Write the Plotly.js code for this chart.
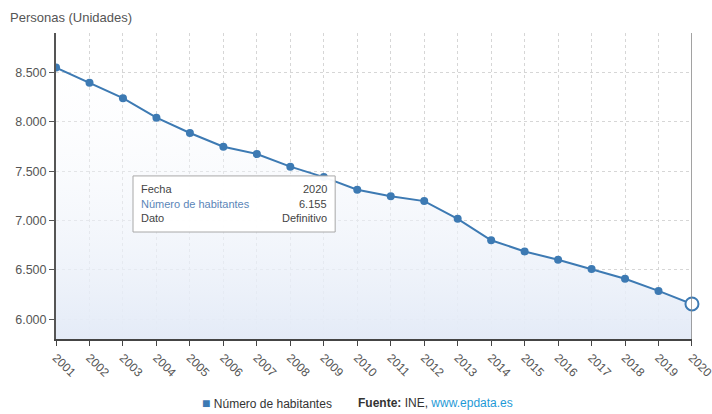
<!DOCTYPE html>
<html>
<head>
<meta charset="utf-8">
<script src="https://cdn.plot.ly/plotly-3.0.1.min.js"></script>
<style>
html,body{margin:0;padding:0;background:#fff;}
#chart{width:712px;height:414px;}
</style>
</head>
<body>
<div id="chart"></div>
<script>
// Data
const years = [2001,2002,2003,2004,2005,2006,2007,2008,2009,2010,2011,2012,2013,2014,2015,2016,2017,2018,2019,2020];
const habitantes = [8550,8395,8240,8042,7887,7748,7674,7546,7440,7312,7247,7197,7017,6800,6687,6603,6510,6410,6287,6155];
const seriesName = 'Número de habitantes';
const yTitle = 'Personas (Unidades)';
const datoLabel = 'Definitivo';
const sourceText = 'INE';
const sourceLink = 'www.epdata.es';

const lineColor = '#3d7ab3';
const font = 'Liberation Sans, Arial, sans-serif';

const n = years.length;
const lastYear = years[n-1];
const lastVal = habitantes[n-1];
function fmt(v){ return String(v).replace(/\B(?=(\d{3})+(?!\d))/g,'.'); }

const traceArea = {
  x: years, y: habitantes, type:'scatter', mode:'lines',
  line:{color:lineColor, width:2},
  fill:'tozeroy',
  fillgradient:{type:'vertical', start:5800, stop:8900,
    colorscale:[[0,'rgba(228,235,247,1)'],[1,'rgba(255,255,255,0)']]},
  hoverinfo:'skip', showlegend:false
};
const traceMarkers = {
  x: years.slice(0,n-1), y: habitantes.slice(0,n-1), type:'scatter', mode:'markers',
  marker:{color:lineColor, size:8},
  hoverinfo:'skip', showlegend:false
};
const traceLast = {
  x: [lastYear], y: [lastVal], type:'scatter', mode:'markers',
  marker:{color:'#ffffff', size:13, line:{color:lineColor, width:2}},
  hoverinfo:'skip', showlegend:false, cliponaxis:false
};

const tipX0 = 2003.3, tipX1 = 2009.34, tipY0 = 6884, tipY1 = 7452;
const rowYs = [7322, 7170, 7026];

const layout = {
  width:712, height:414,
  margin:{l:56, r:20, t:33, b:75},
  paper_bgcolor:'#ffffff', plot_bgcolor:'#ffffff',
  separators:',.',
  font:{family:font, color:'#555', size:12},
  xaxis:{
    range:[2000.999, 2020.001], tickmode:'array', tickvals:years, ticktext:years.map(String),
    tickangle:45, showgrid:true, gridcolor:'#d6d6d6', griddash:'dot', gridwidth:1,
    showline:true, linecolor:'#444', linewidth:2, ticks:'outside', ticklen:5, tickcolor:'#444',
    tickfont:{size:12, color:'#555'}, zeroline:false, fixedrange:true, automargin:false,
    ticklabeloverflow:'allow'
  },
  yaxis:{
    range:[5800,8900], tickvals:[6000,6500,7000,7500,8000,8500], tickformat:',',
    showgrid:true, gridcolor:'#d6d6d6', griddash:'dot', gridwidth:1,
    showline:true, linecolor:'#555', linewidth:2, ticks:'outside', ticklen:5, tickcolor:'#555',
    tickfont:{size:12.5, color:'#555'}, zeroline:false, fixedrange:true
  },
  shapes:[
    {type:'line', xref:'x', yref:'paper', x0:2020, x1:2020, y0:0, y1:1, line:{color:'#888', width:1.5}},
    {type:'rect', xref:'x', yref:'y', x0:tipX0, x1:tipX1, y0:tipY0, y1:tipY1,
     fillcolor:'rgba(255,255,255,0.95)', line:{color:'#a8a8a8', width:1}}
  ],
  annotations:[
    {xref:'paper', yref:'paper', x:-0.0755, y:1.052, xanchor:'left', yanchor:'middle',
     text:yTitle, showarrow:false, font:{size:13, color:'#555'}},
    {xref:'x', yref:'y', x:tipX0+0.18, y:rowYs[0], xanchor:'left', yanchor:'middle', text:'Fecha', showarrow:false, font:{size:11, color:'#444'}},
    {xref:'x', yref:'y', x:tipX1-0.18, y:rowYs[0], xanchor:'right', yanchor:'middle', text:String(lastYear), showarrow:false, font:{size:11, color:'#444'}},
    {xref:'x', yref:'y', x:tipX0+0.18, y:rowYs[1], xanchor:'left', yanchor:'middle', text:seriesName, showarrow:false, font:{size:11, color:'#5b86b8'}},
    {xref:'x', yref:'y', x:tipX1-0.18, y:rowYs[1], xanchor:'right', yanchor:'middle', text:fmt(lastVal), showarrow:false, font:{size:11, color:'#444'}},
    {xref:'x', yref:'y', x:tipX0+0.18, y:rowYs[2], xanchor:'left', yanchor:'middle', text:'Dato', showarrow:false, font:{size:11, color:'#444'}},
    {xref:'x', yref:'y', x:tipX1-0.18, y:rowYs[2], xanchor:'right', yanchor:'middle', text:datoLabel, showarrow:false, font:{size:11, color:'#444'}},
    {xref:'paper', yref:'paper', x:(200-56)/636, y:(339-403)/306, xanchor:'left', yanchor:'middle',
     text:'<span style="color:'+lineColor+';font-size:14px">■</span> '+seriesName, showarrow:false, font:{size:12, color:'#333'}},
    {xref:'paper', yref:'paper', x:(356-56)/636, y:(339-403)/306, xanchor:'left', yanchor:'middle',
     text:'<b>Fuente:</b> '+sourceText+', <span style="color:#1f9ad6">'+sourceLink+'</span>', showarrow:false, font:{size:12, color:'#333'}}
  ]
};

Plotly.newPlot('chart', [traceArea, traceMarkers, traceLast], layout, {displayModeBar:false, staticPlot:true});
</script>
</body>
</html>
